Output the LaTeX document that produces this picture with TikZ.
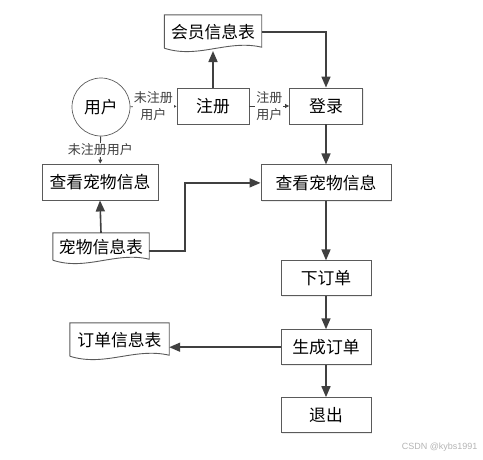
\documentclass[tikz,border=0pt]{standalone}
\usepackage{fontspec}
\setmainfont{Noto Sans CJK SC}
\newfontfamily\wmfont{Liberation Sans}
\usepackage{tikz}
\usetikzlibrary{positioning,arrows.meta,calc,shadows}
\definecolor{cLine}{HTML}{404040}
\definecolor{cBorder}{HTML}{5A5A5A}
\definecolor{cMark}{HTML}{B4B4B4}
\tikzset{
  blk/.style={draw=cBorder, fill=white, line width=0.9pt, align=center, inner sep=2pt,
              font=\fontsize{16.8pt}{19pt}\selectfont,
              drop shadow={shadow xshift=1.2pt, shadow yshift=-1.2pt, fill=black!15}},
  proc/.style={blk, rectangle, minimum height=36pt},
  usr/.style={draw=cBorder, line width=0.7pt, circle, minimum size=58pt, inner sep=0pt,
              font=\fontsize{16.8pt}{19pt}\selectfont},
  docb/.style={inner sep=2pt, minimum height=34pt,
               font=\fontsize{16.8pt}{19pt}\selectfont},
  docline/.style={draw=cBorder, line width=0.9pt},
  ar/.style={-{Triangle[length=11pt, width=9pt]}, line width=1.6pt, cLine},
  sar/.style={-{Triangle[length=4pt, width=4pt]}, line width=0.9pt, cLine},
  lbl/.style={font=\fontsize{13pt}{17pt}\selectfont, inner sep=1pt, fill=white, align=center},
}
% document symbol: flat top, wavy bottom
\newcommand{\docedge}[1]{%
  \draw[docline] ($(#1.south west)+(0pt,1pt)$) -- (#1.north west) -- (#1.north east)
    -- ($(#1.south east)+(0pt,2pt)$)
    .. controls ($(#1.south east)!0.35!(#1.south west)+(0pt,10pt)$)
       and ($(#1.south east)!0.65!(#1.south west)+(0pt,-10pt)$) .. ($(#1.south west)+(0pt,1pt)$);}

\begin{document}
\begin{tikzpicture}[x=1pt, y=-1pt]
  \useasboundingbox (0,0) rectangle (483,459);

  % user and registration row
  \node[usr] (user) at (101,107) {用户};
  \node[proc, minimum width=72pt] (reg) at (213,106) {注册};
  \node[proc, minimum width=73pt] (login) at (326,106) {登录};
  \node[docb, minimum width=97pt] (memdoc) at (213,32) {会员信息表};
  \docedge{memdoc}

  % browsing
  \node[proc, minimum width=116pt] (view1) at (100,182) {查看宠物信息};
  \node[proc, minimum width=130pt, below=40pt of login] (view2) {查看宠物信息};
  \node[docb, minimum width=96pt, minimum height=28pt] (petdoc) at (101,247) {宠物信息表};
  \docedge{petdoc}

  % ordering
  \node[proc, minimum width=90pt, minimum height=35pt, below=59pt of view2] (order) {下订单};
  \node[proc, minimum width=90pt, minimum height=35pt, below=33pt of order] (gen) {生成订单};
  \node[proc, minimum width=90pt, minimum height=35pt, below=32pt of gen] (quit) {退出};
  \node[docb, minimum width=99pt] (orddoc) at (119.5,340) {订单信息表};
  \docedge{orddoc}

  \draw[sar] (user) -- node[lbl] {未注册\\用户} (reg);
  \draw[sar] (user) -- node[lbl] {未注册用户} (view1);
  \draw[sar] (reg) -- node[lbl] {注册\\用户} (login);
  \draw[ar] (reg) -- (memdoc.south |- 0,51);
  \draw[ar] (memdoc.east) -| (login.north);
  \draw[ar] (petdoc.north) -- (view1.south);
  \draw[ar] ($(petdoc.east)+(0pt,-4pt)$) -- ++(36pt,0pt) |- (view2.west);
  \draw[ar] (login) -- (view2);
  \draw[ar] (view2) -- (order);
  \draw[ar] (order) -- (gen);
  \draw[ar] (gen) -- (quit);
  \draw[ar] (gen.west) -- (gen.west -| orddoc.east);

  \node[font=\wmfont\fontsize{9pt}{10pt}\selectfont, text=cMark, anchor=east] (mark) at (481,447) {CSDN @kybs1991};
\end{tikzpicture}
\end{document}
